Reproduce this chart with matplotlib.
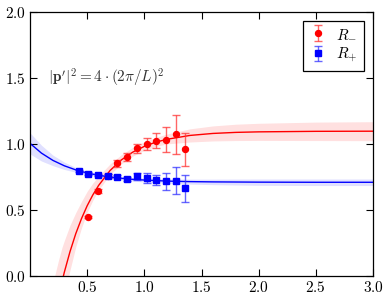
import matplotlib
matplotlib.use("Agg")
import matplotlib.pyplot as plt
from matplotlib.ticker import FuncFormatter, FixedLocator

plt.rcParams['mathtext.fontset'] = 'cm'
plt.rcParams['font.family'] = ['DejaVu Serif']

# ---- data points ----
x_minus = [0.51, 0.595, 0.68, 0.765, 0.85, 0.935, 1.02, 1.105, 1.19, 1.275, 1.36]
y_minus = [0.447, 0.644, 0.76, 0.854, 0.899, 0.967, 1.0, 1.023, 1.033, 1.073, 0.96]
e_minus = [0.010, 0.012, 0.015, 0.025, 0.03, 0.034, 0.047, 0.057, 0.093, 0.15, 0.124]

x_plus = [0.425, 0.51, 0.595, 0.68, 0.765, 0.85, 0.935, 1.02, 1.105, 1.19, 1.275, 1.36]
y_plus = [0.795, 0.776, 0.765, 0.758, 0.752, 0.737, 0.756, 0.742, 0.725, 0.717, 0.722, 0.664]
e_plus = [0.010, 0.010, 0.010, 0.012, 0.012, 0.015, 0.025, 0.038, 0.038, 0.063, 0.10, 0.10]

# ---- fit curves and bands ----
fx_minus = [0.20, 0.25, 0.28, 0.30, 0.35, 0.40, 0.45, 0.50, 0.55, 0.60, 0.70, 0.80, 0.90,
            1.00, 1.10, 1.20, 1.40, 1.60, 1.80, 2.00, 2.50, 3.00]
fy_minus = [-0.374, -0.158, -0.043, 0.028, 0.185, 0.320, 0.434, 0.532, 0.615, 0.686, 0.799,
            0.880, 0.939, 0.982, 1.014, 1.036, 1.065, 1.080, 1.088, 1.092, 1.096, 1.097]
fup_minus = [0.32, 0.28, 0.26, 0.24, 0.20, 0.16, 0.13, 0.11, 0.09, 0.07, 0.05, 0.04, 0.036,
             0.035, 0.036, 0.04, 0.05, 0.057, 0.062, 0.065, 0.07, 0.072]
flo_minus = [0.30, 0.24, 0.21, 0.18, 0.14, 0.10, 0.07, 0.05, 0.04, 0.035, 0.03, 0.03, 0.03,
             0.03, 0.032, 0.035, 0.05, 0.057, 0.062, 0.065, 0.07, 0.072]

fx_plus = [0.0, 0.1, 0.2, 0.3, 0.4, 0.5, 0.6, 0.7, 0.8, 0.9, 1.0, 1.2, 1.4, 1.6, 2.0, 2.5, 3.0]
fy_plus = [1.005, 0.931, 0.876, 0.835, 0.804, 0.780, 0.763, 0.750, 0.740, 0.732, 0.727,
           0.719, 0.715, 0.713, 0.711, 0.710, 0.710]
fe_plus = [0.08, 0.06, 0.04, 0.028, 0.018, 0.014, 0.012, 0.012, 0.012, 0.013, 0.015,
           0.017, 0.019, 0.021, 0.024, 0.025, 0.025]

x_ticks = [0.5, 1.0, 1.5, 2.0, 2.5, 3.0]
y_ticks = [0.0, 0.5, 1.0, 1.5, 2.0]

fig = plt.figure(figsize=(3.9, 2.97), dpi=100)
ax = fig.add_axes([30/390, 21/297, 343/390, 264/297])

# bands
ax.fill_between(fx_minus, [y + u for y, u in zip(fy_minus, fup_minus)],
                [y - l for y, l in zip(fy_minus, flo_minus)],
                color=(1.0, 0.0, 0.0, 0.12), lw=0, zorder=1)
ax.fill_between(fx_plus, [y + e for y, e in zip(fy_plus, fe_plus)],
                [y - e for y, e in zip(fy_plus, fe_plus)],
                color=(0.0, 0.0, 1.0, 0.12), lw=0, zorder=1)
ax.plot(fx_minus, fy_minus, color='red', lw=1.0, zorder=2)
ax.plot(fx_plus, fy_plus, color='blue', lw=1.0, zorder=2)

ax.errorbar(x_minus, y_minus, yerr=e_minus, fmt='o', color='red', ms=4.3,
            ecolor=(1.0, 0.2, 0.2, 0.75), elinewidth=1.0, capsize=3, capthick=1.0,
            label=r'$R_{-}$', zorder=3)
ax.errorbar(x_plus, y_plus, yerr=e_plus, fmt='s', color='blue', ms=4.0,
            ecolor=(0.2, 0.2, 1.0, 0.75), elinewidth=1.0, capsize=3, capthick=1.0,
            label=r'$R_{+}$', zorder=4)

ax.text(0.16, 1.5, r"$|\mathbf{p}'|^2 = 4\cdot(2\pi/L)^2$", fontsize=11,
        color='#333333', va='center', ha='left')

ax.set_xlim(0, 3.0)
ax.set_ylim(0, 2.0)
ax.xaxis.set_major_locator(FixedLocator(x_ticks))
ax.yaxis.set_major_locator(FixedLocator(y_ticks))
fmt = FuncFormatter(lambda v, p: r'$%.1f$' % v)
ax.xaxis.set_major_formatter(fmt)
ax.yaxis.set_major_formatter(fmt)
ax.tick_params(direction='in', top=True, right=True, length=5, width=0.8,
               labelsize=11, pad=3)
for s in ax.spines.values():
    s.set_linewidth(0.9)
    s.set_color('black')

leg = ax.legend(loc='upper right', fontsize=11, frameon=True, fancybox=False,
                edgecolor='black', framealpha=1.0, borderaxespad=0.6,
                handlelength=1.2, handletextpad=0.6, borderpad=0.4, labelspacing=0.3)
leg.get_frame().set_linewidth(0.9)

fig.savefig('out.png', dpi=100)
